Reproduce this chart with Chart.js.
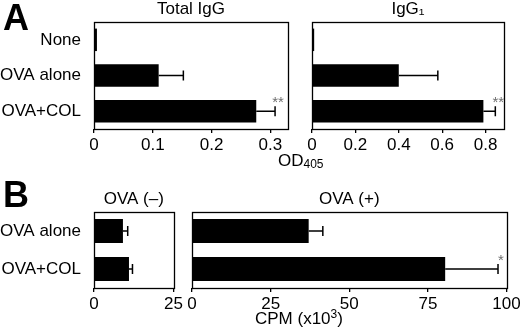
<!DOCTYPE html>
<html>
<head>
<meta charset="utf-8">
<script src="https://cdn.jsdelivr.net/npm/chart.js@4"></script>
<style>
  html, body { margin: 0; padding: 0; background: #fff; }
  body { width: 520px; height: 330px; overflow: hidden; position: relative; font-family: "Liberation Sans", Arial, sans-serif; color: #000; }
  canvas { position: absolute; left: 0; top: 0; }
  .txt { position: absolute; line-height: 1; white-space: nowrap; }
</style>
</head>
<body>
<canvas id="cTotal" width="540" height="330"></canvas>
<canvas id="cIgG1" width="540" height="330"></canvas>
<canvas id="cNeg" width="540" height="330"></canvas>
<canvas id="cPos" width="540" height="330"></canvas>
<div class="txt" style="left:3px; top:0px; font-size:36px; font-weight:bold;">A</div>
<div class="txt" style="left:3px; top:177px; font-size:36px; font-weight:bold;">B</div>
<div class="txt" style="left:278px; top:152px; font-size:17px;">OD<span style="font-size:12px; position:relative; top:2px;">405</span></div>
<div class="txt" style="left:255px; top:310px; font-size:17px;">CPM (x10<span style="font-size:12px; position:relative; top:-6px;">3</span>)</div>
<script>
// panel A: antibody titres (OD405)
const groupsA = ['None', 'OVA alone', 'OVA+COL'];
const totalIgG = [0.005, 0.11, 0.276];
const totalIgGSd = [0, 0.042, 0.032];
const totalIgGStars = ['', '', '**'];
const igg1 = [0.01, 0.40, 0.79];
const igg1Sd = [0, 0.18, 0.055];
const igg1Stars = ['', '', '**'];

// panel B: proliferation, CPM x10^3
const groupsB = ['OVA alone', 'OVA+COL'];
const ovaNeg = [9.1, 11.0];
const ovaNegSd = [1.5, 1.1];
const ovaNegStars = ['', ''];
const ovaPos = [37.1, 80.5];
const ovaPosSd = [4.5, 16.8];
const ovaPosStars = ['', '*'];

const ticksTotal = [0, 0.1, 0.2, 0.3];
const ticksIgG1 = [0, 0.2, 0.4, 0.6, 0.8];
const ticksNeg = [0, 25];
const ticksPos = [0, 25, 50, 75, 100];

Chart.defaults.font.family = '"Liberation Sans", Arial, sans-serif';
Chart.defaults.color = '#000';

function makeChart(id, box, title, labels, values, sd, stars, max, ticks, showLabels) {
    const errPlugin = {
        id: 'errbars',
        afterDatasetsDraw(chart) {
            const ctx = chart.ctx;
            const xs = chart.scales.x;
            const meta = chart.getDatasetMeta(0);
            ctx.save();
            meta.data.forEach((bar, i) => {
                const x1 = xs.getPixelForValue(values[i] + sd[i]);
                const y = bar.y;
                if (sd[i]) {
                    ctx.strokeStyle = '#000';
                    ctx.lineWidth = 1.5;
                    ctx.beginPath();
                    ctx.moveTo(bar.x, y);
                    ctx.lineTo(x1, y);
                    ctx.moveTo(x1, y - 5);
                    ctx.lineTo(x1, y + 5);
                    ctx.stroke();
                }
                if (stars[i]) {
                    ctx.fillStyle = '#6e6e6e';
                    ctx.font = '15px "Liberation Sans", Arial, sans-serif';
                    ctx.textAlign = 'center';
                    ctx.textBaseline = 'alphabetic';
                    ctx.fillText(stars[i], x1 + 3, y - 4);
                }
            });
            // frame round the plot
            const a = chart.chartArea;
            ctx.strokeStyle = '#000';
            ctx.lineWidth = 1.3;
            ctx.strokeRect(Math.round(a.left) + 0.5, Math.round(a.top) + 0.5,
                Math.round(a.right - a.left), Math.round(a.bottom - a.top));
            ctx.restore();
        }
    };

    return new Chart(document.getElementById(id), {
        type: 'bar',
        data: {
            labels: labels,
            datasets: [{
                data: values,
                backgroundColor: '#000',
                barPercentage: 0.63,
                categoryPercentage: 1
            }]
        },
        options: {
            indexAxis: 'y',
            responsive: false,
            animation: false,
            layout: {
                padding: {
                    left: showLabels ? 0 : box.l,
                    right: 540 - box.r,
                    top: box.t - 22,
                    bottom: 330 - box.b - 30
                }
            },
            plugins: {
                legend: { display: false },
                tooltip: { enabled: false },
                title: {
                    display: true,
                    fullSize: false,
                    text: title,
                    color: '#000',
                    font: { size: 17, weight: 'normal', lineHeight: 1 },
                    padding: { top: 1.2, bottom: 3.8 }
                }
            },
            scales: {
                x: {
                    min: 0,
                    max: max,
                    afterBuildTicks: s => { s.ticks = ticks.map(v => ({ value: v })); },
                    afterFit: s => { s.height = 30; },
                    grid: { drawOnChartArea: false, drawTicks: true, tickLength: 4, color: '#000', lineWidth: 1.3 },
                    border: { display: false },
                    ticks: {
                        font: { size: 17 },
                        color: '#000',
                        padding: 2,
                        maxRotation: 0,
                        autoSkip: false,
                        callback: v => String(v)
                    }
                },
                y: {
                    afterFit: s => { s.width = showLabels ? box.l : 0; },
                    grid: { display: false },
                    border: { display: false },
                    ticks: { display: showLabels, font: { size: 17 }, color: '#000', padding: 5 }
                }
            }
        },
        plugins: [errPlugin]
    });
}

makeChart('cTotal', { l: 94, r: 288, t: 22, b: 129 }, 'Total IgG', groupsA, totalIgG, totalIgGSd, totalIgGStars, 0.33, ticksTotal, true);
makeChart('cIgG1', { l: 312, r: 504, t: 22, b: 129 }, 'IgG\u2081', groupsA, igg1, igg1Sd, igg1Stars, 0.885, ticksIgG1, false);
makeChart('cNeg', { l: 94, r: 173.5, t: 212, b: 288 }, 'OVA (\u2013)', groupsB, ovaNeg, ovaNegSd, ovaNegStars, 25, ticksNeg, true);
makeChart('cPos', { l: 192, r: 506.5, t: 212, b: 288 }, 'OVA (+)', groupsB, ovaPos, ovaPosSd, ovaPosStars, 100, ticksPos, false);
</script>
</body>
</html>
